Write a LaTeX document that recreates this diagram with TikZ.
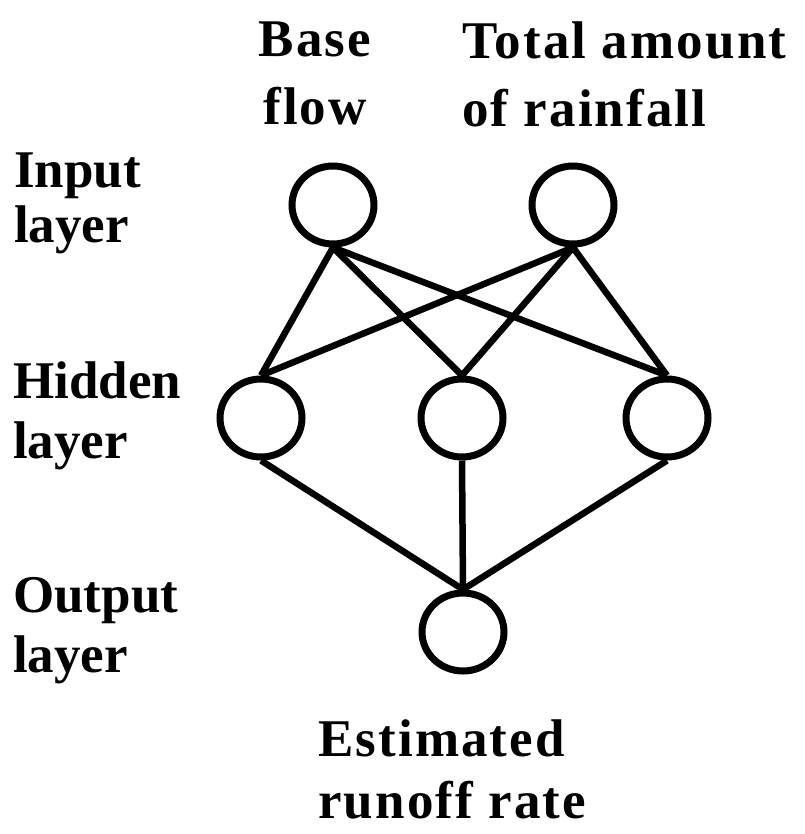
\documentclass[tikz,border=0pt]{standalone}
\usepackage{fontspec}
\setmainfont{Liberation Serif}
\usetikzlibrary{shapes.geometric}
\begin{document}
\begin{tikzpicture}[
    x=1bp, y=-1bp,
    neuron/.style={draw, ellipse, line width=7bp, minimum width=82bp, minimum height=78bp, inner sep=0pt},
    lbl/.style={font=\fontsize{53bp}{60bp}\selectfont\bfseries, inner sep=0pt},
    spaced/.style={font=\fontsize{53bp}{60bp}\selectfont\bfseries\addfontfeature{LetterSpace=4}},
    link/.style={line width=6.5bp},
]
\useasboundingbox (0,0) rectangle (805,834);

% Neurons
\node[neuron] (in1) at (333,205) {};
\node[neuron] (in2) at (573,205) {};
\node[neuron] (hid1) at (261,418) {};
\node[neuron] (hid2) at (462,418) {};
\node[neuron] (hid3) at (667,418) {};
\node[neuron] (out) at (463,632) {};

% Connections
\foreach \i in {in1,in2}
  \foreach \h in {hid1,hid2,hid3}
    \draw[link] (\i.south) -- (\h.north);
\foreach \h in {hid1,hid2,hid3}
  \draw[link] (\h.south) -- (out.north);

% Inputs and output
\node[lbl, spaced, anchor=north, align=center] (baseflow) at (315,22) {Base\\[8bp]flow};
\node[lbl, spaced, anchor=north west, align=left] (rainfall) at (462,22) {Total amount\\[8bp]of rainfall};
\node[lbl, spaced, anchor=north west, align=left] (runoff) at (318,720) {Estimated\\[2bp]runoff rate};

% Layer names
\node[lbl, anchor=north west, align=left] (inlayer) at (14,153) {Input\\[-5bp]layer};
\node[lbl, anchor=north west, align=left] (hidlayer) at (13,362) {Hidden\\layer};
\node[lbl, anchor=north west, align=left] (outlayer) at (13,577) {Output\\layer};

\end{tikzpicture}
\end{document}
